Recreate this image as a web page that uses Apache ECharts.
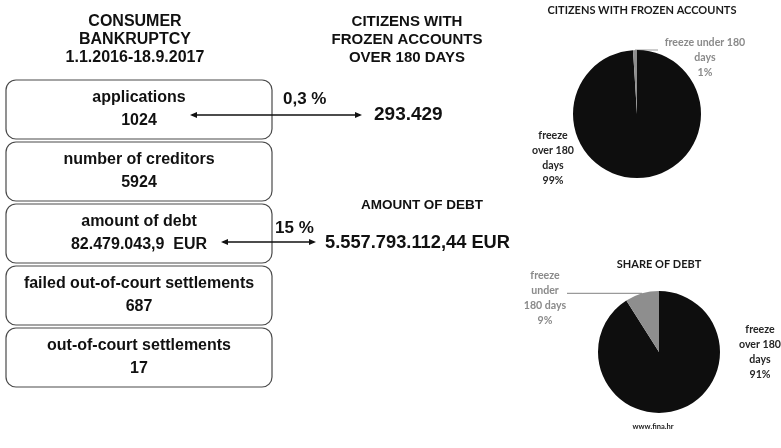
<!DOCTYPE html>
<html>
<head>
<meta charset="utf-8">
<script src="https://cdn.jsdelivr.net/npm/echarts@6/dist/echarts.min.js"></script>
<style>
  html, body { margin: 0; padding: 0; background: #ffffff; }
  #chart { width: 781px; height: 448px; }
</style>
</head>
<body>
<div id="chart"></div>
<script>
// ---- data ----
const headerLeft = ['CONSUMER', 'BANKRUPTCY', '1.1.2016-18.9.2017'];
const headerMiddle = ['CITIZENS WITH', 'FROZEN ACCOUNTS', 'OVER 180 DAYS'];
const boxLabels = ['applications', 'number of creditors', 'amount of debt', 'failed out-of-court settlements', 'out-of-court settlements'];
const boxValues = ['1024', '5924', '82.479.043,9  EUR', '687', '17'];
const citizensShareText = '0,3 %';
const frozenCitizensText = '293.429';
const debtTitle = 'AMOUNT OF DEBT';
const debtShareText = '15 %';
const totalDebtText = '5.557.793.112,44 EUR';

const citizensPieTitle = 'CITIZENS WITH FROZEN ACCOUNTS';
const citizensNames = ['freeze\nover 180\ndays', 'freeze under 180\ndays'];
const citizensValues = [99, 1];

const debtPieTitle = 'SHARE OF DEBT';
const debtNames = ['freeze\nover 180\ndays', 'freeze\nunder\n180 days'];
const debtValues = [91, 9];

const sourceText = 'www.fina.hr';

// ---- styling / layout ----
const SANS = '"Liberation Sans", Arial, sans-serif';
const PIE_FONT = 'Lato, "Open Sans", sans-serif';
const INK = '#111111';
const DARK = '#0e0e0e';
const GREY = '#8e8e8e';
const LABEL_DARK = '#262626';
const LABEL_GREY = '#8a8a8a';

const BOX = { x: 6, top: 80, step: 62, width: 266, height: 59 };
const PIE1 = { cx: 637, cy: 114, r: 64 };
const PIE2 = { cx: 659, cy: 352, r: 61 };

function txt(text, x, y, size, opts) {
  opts = opts || {};
  return {
    type: 'text', x: x, y: y, z: opts.z || 10, silent: true,
    style: {
      text: text,
      fontFamily: opts.family || SANS,
      fontWeight: 'bold',
      fontSize: size,
      fill: opts.color || INK,
      align: opts.align || 'center',
      verticalAlign: 'middle'
    }
  };
}

// double-headed arrow linking a box value to its national total
function arrow(x1, x2, y) {
  const h = 7, w = 3;
  return [
    { type: 'line', z: 20, silent: true, shape: { x1: x1 + 2, y1: y, x2: x2 - 2, y2: y }, style: { stroke: INK, lineWidth: 1.6 } },
    { type: 'polygon', z: 20, silent: true, shape: { points: [[x1, y], [x1 + h, y - w], [x1 + h, y + w]] }, style: { fill: INK } },
    { type: 'polygon', z: 20, silent: true, shape: { points: [[x2, y], [x2 - h, y - w], [x2 - h, y + w]] }, style: { fill: INK } }
  ];
}

const graphics = [];
headerLeft.forEach((t, i) => graphics.push(txt(t, 135, 22 + i * 18, 16)));
headerMiddle.forEach((t, i) => graphics.push(txt(t, 407, 22 + i * 18, 15)));

boxLabels.forEach((label, i) => {
  const top = BOX.top + i * BOX.step;
  graphics.push({
    type: 'rect', z: 1, silent: true,
    shape: { x: BOX.x, y: top, width: BOX.width, height: BOX.height, r: 10 },
    style: { fill: '#ffffff', stroke: '#4a4a4a', lineWidth: 1.2 }
  });
  graphics.push(txt(label, BOX.x + BOX.width / 2, top + 18, 16));
  graphics.push(txt(boxValues[i], BOX.x + BOX.width / 2, top + 41, 16));
});

graphics.push(txt(citizensShareText, 283, 99, 17, { align: 'left' }));
graphics.push(...arrow(190, 362, 115));
graphics.push(txt(frozenCitizensText, 374, 115, 19, { align: 'left' }));

graphics.push(txt(debtTitle, 422, 205, 13.5));
graphics.push(txt(debtShareText, 275, 228, 17, { align: 'left' }));
graphics.push(...arrow(221, 316, 242));
graphics.push(txt(totalDebtText, 325, 243, 18.3, { align: 'left' }));

graphics.push(txt(citizensPieTitle, 642, 10, 11, { family: PIE_FONT, color: '#1a1a1a' }));
graphics.push(txt(debtPieTitle, 659, 264, 11, { family: PIE_FONT, color: '#1a1a1a' }));
graphics.push(txt(sourceText, 653, 427, 7.5, { family: PIE_FONT, color: '#1a1a1a' }));

function pieData(names, values) {
  return values.map((v, i) => ({
    value: v,
    name: names[i],
    itemStyle: { color: i === 0 ? DARK : GREY },
    label: { color: i === 0 ? LABEL_DARK : LABEL_GREY },
    labelLine: { show: i !== 0, lineStyle: { color: '#9a9a9a', width: 1.2 } }
  }));
}

function anchorOf(p, pie) {
  if (p.labelLinePoints && p.labelLinePoints.length) {
    return [p.labelLinePoints[0][0], p.labelLinePoints[0][1]];
  }
  return [pie.cx, pie.cy - pie.r];
}

const pieLabel = {
  show: true,
  position: 'outside',
  formatter: '{b}\n{d}%',
  fontFamily: PIE_FONT,
  fontWeight: 'bold',
  fontSize: 10.6,
  lineHeight: 15
};

const option = {
  backgroundColor: '#ffffff',
  animation: false,
  graphic: graphics,
  series: [
    {
      type: 'pie',
      silent: true,
      center: [PIE1.cx, PIE1.cy],
      radius: [0, PIE1.r],
      startAngle: 90,
      clockwise: true,
      avoidLabelOverlap: false,
      label: pieLabel,
      data: pieData(citizensNames, citizensValues),
      labelLayout: function (p) {
        if (p.dataIndex === 0) {
          return { x: PIE1.cx - 84, y: PIE1.cy + 14, align: 'center', verticalAlign: 'top' };
        }
        const a = anchorOf(p, PIE1);
        const lx = PIE1.cx + 68;
        return {
          x: lx, y: PIE1.cy - 79, align: 'center', verticalAlign: 'top',
          labelLinePoints: [a, [a[0] + 2, PIE1.cy - PIE1.r], [lx - 47, PIE1.cy - PIE1.r]]
        };
      }
    },
    {
      type: 'pie',
      silent: true,
      center: [PIE2.cx, PIE2.cy],
      radius: [0, PIE2.r],
      startAngle: 90,
      clockwise: true,
      avoidLabelOverlap: false,
      label: pieLabel,
      data: pieData(debtNames, debtValues),
      labelLayout: function (p) {
        if (p.dataIndex === 0) {
          return { x: PIE2.cx + 101, y: PIE2.cy - 30, align: 'center', verticalAlign: 'top' };
        }
        const a = anchorOf(p, PIE2);
        const lx = PIE2.cx - 114;
        return {
          x: lx, y: PIE2.cy - 84, align: 'center', verticalAlign: 'top',
          labelLinePoints: [a, [a[0] - 2, a[1]], [lx + 22, a[1]]]
        };
      }
    }
  ]
};

const chart = echarts.init(document.getElementById('chart'), null, { renderer: 'canvas' });
chart.setOption(option);
</script>
</body>
</html>
